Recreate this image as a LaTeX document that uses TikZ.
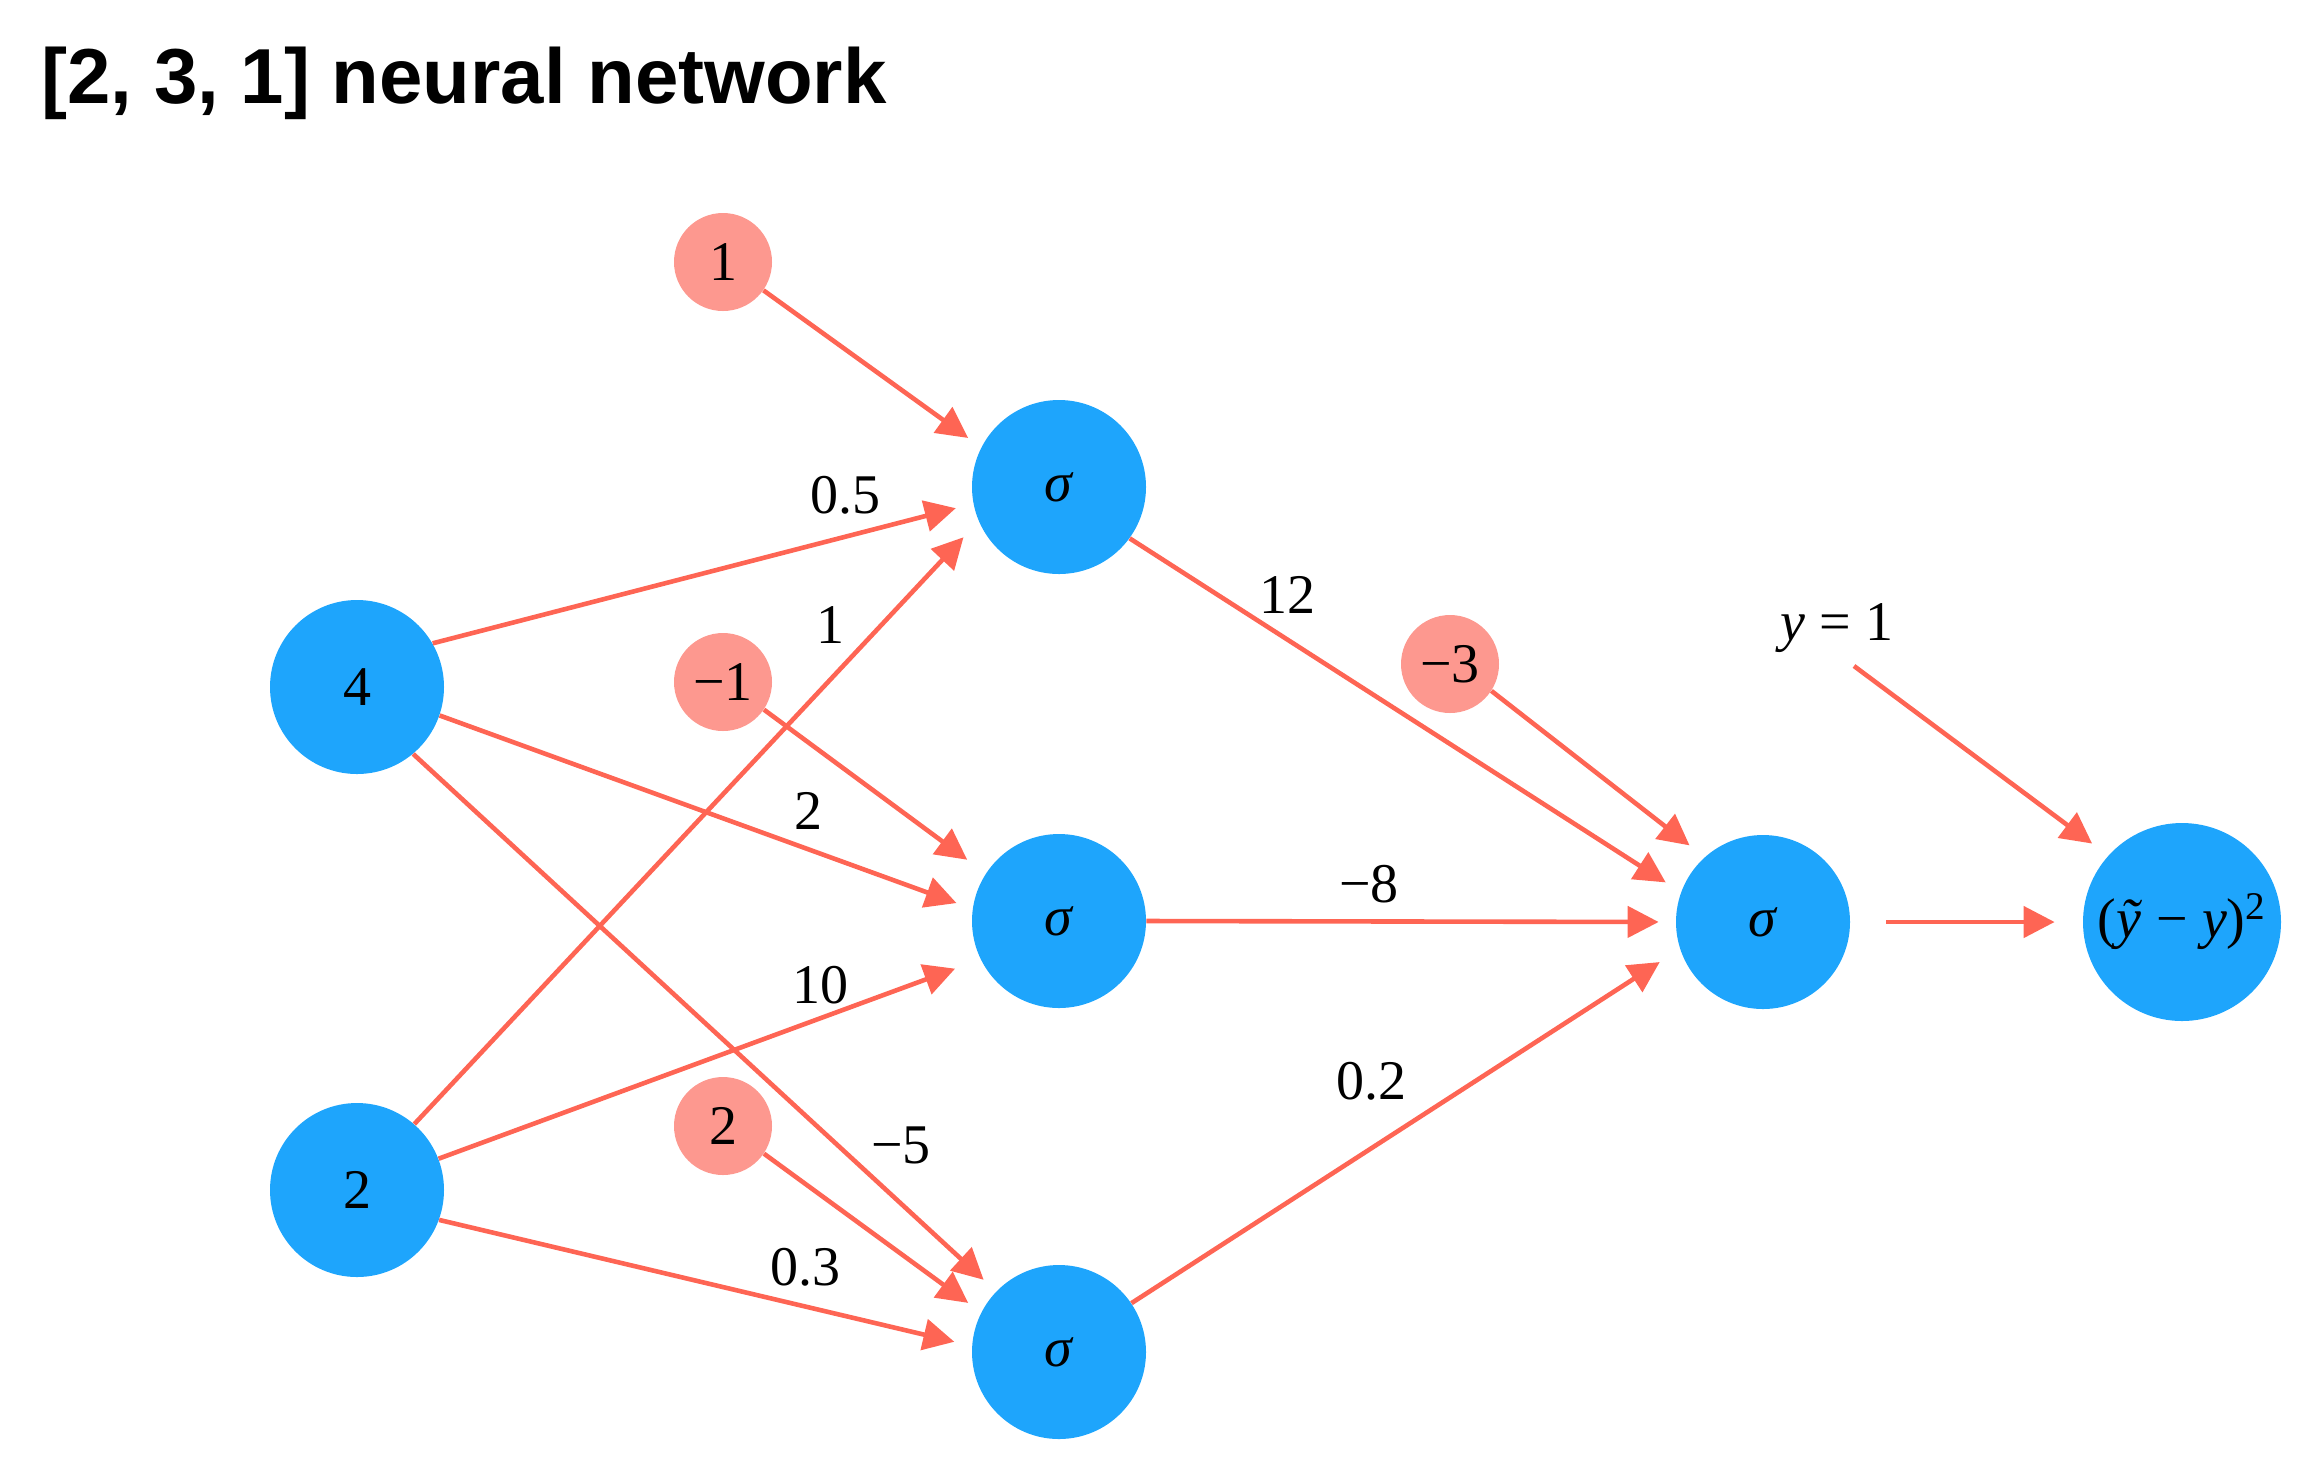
\documentclass[tikz,border=0pt]{standalone}
\usepackage{fontspec}
\setmainfont{Liberation Serif}
\newfontfamily\titlefont{Liberation Sans}
\usetikzlibrary{arrows.meta}

\definecolor{unitblue}{RGB}{30,165,252}
\definecolor{biaspink}{RGB}{253,152,143}
\definecolor{wirered}{RGB}{254,101,84}

\tikzset{
  unit/.style={circle,fill=unitblue,inner sep=0pt,minimum size=87pt,font=\fontsize{28}{30}\selectfont},
  bias/.style={circle,fill=biaspink,inner sep=0pt,minimum size=49pt,font=\fontsize{28}{30}\selectfont},
  weight/.style={inner sep=0.75pt,font=\fontsize{28}{30}\selectfont},
  wire/.style={draw=wirered,line width=2.3pt,-{Triangle[length=15.5pt,width=15.5pt]}}
}

\begin{document}
\begin{tikzpicture}[x=0.5pt,y=0.5pt,yscale=-1,xscale=1]
\useasboundingbox (0,0) rectangle (2316,1480);

% Text Node
\node (title) [anchor=base west,inner sep=0pt,font=\titlefont\bfseries\fontsize{39}{40}\selectfont] at (41,103) {[2, 3, 1] neural network};

%Input layer
\node (in4) [unit] at (357,687) {4};
\node (in2) [unit] at (357,1190) {2};

%Biases
\node (b1) [bias] at (723,262) {1};
\node (bm1) [bias] at (723,682) {−1};
\node (b2) [bias] at (723,1126) {2};
\node (bm3) [bias] at (1450,664) {−3};

%Hidden layer
\node (h1) [unit] at (1059,487) {\textit{σ}};
\node (h2) [unit] at (1059,921) {\textit{σ}};
\node (h3) [unit] at (1059,1352) {\textit{σ}};

%Output and loss
\node (out) [unit] at (1763,922) {\textit{σ}};
\node (loss) [unit,minimum size=99pt] at (2182,922) {(\textit{ỹ} − \textit{y})\textsuperscript{2}};

% Text Node
\node (target) [weight] at (1837,628) {\textit{y} = 1};
\coordinate (tstart) at (1854,666);

%Straight Lines
\draw [wire,shorten >=8pt] (b1.-35) -- (h1.153);
\draw [wire,shorten >=9pt] (in4.30) -- (h1.191);
\draw [wire,shorten >=11pt] (in2.49) -- (h1.203);
\draw [wire,shorten >=8.5pt] (in4.-19) -- (h2.172);
\draw [wire,shorten >=11.5pt] (bm1.-34) -- (h2.147);
\draw [wire,shorten >=13.5pt] (in2.21) -- (h2.206);
\draw [wire,shorten >=8.5pt] (in4.-50) -- (h3.136);
\draw [wire,shorten >=8pt] (b2.-34) -- (h3.153);
\draw [wire,shorten >=9pt] (in2.-20) -- (h3.176);
\draw [wire,shorten >=9pt] (h1.-36) -- (out.160);
\draw [wire,shorten >=9.5pt] (bm3.-33) -- (out.132);
\draw [wire,shorten >=8.5pt] (h2.east) -- (out.west);
\draw [wire,shorten >=12pt] (h3.34) -- (out.198);
\draw [wire,shorten >=10pt] (tstart) -- (loss.138);
\draw [wire,shorten <=18pt,shorten >=14pt] (out.east) -- (loss.west);

% Weight labels
\node (w1) [weight] at (845,495) {0.5};
\node (w2) [weight] at (830,625) {1};
\node (w3) [weight] at (808,811) {2};
\node (w4) [weight] at (820,985) {10};
\node (w5) [weight] at (901,1145) {−5};
\node (w6) [weight] at (805,1267) {0.3};
\node (w7) [weight] at (1287,595) {12};
\node (w8) [weight] at (1369,884) {−8};
\node (w9) [weight] at (1371,1081) {0.2};

\end{tikzpicture}
\end{document}
